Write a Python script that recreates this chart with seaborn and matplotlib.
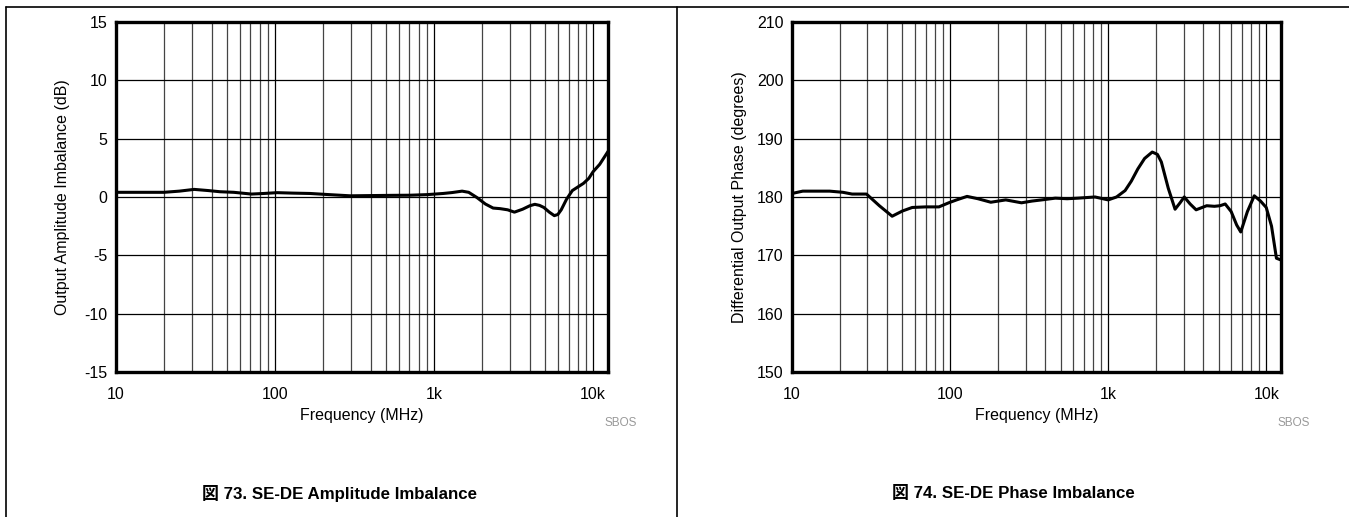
#!/usr/bin/env python3
import matplotlib
matplotlib.use('Agg')
import matplotlib.pyplot as plt
import matplotlib.ticker as mticker
from matplotlib.lines import Line2D
import seaborn as sns
import pandas as pd

# Amplitude imbalance (dB) vs frequency (MHz)
amp_freq = [10, 14, 20, 25, 31, 38, 45, 55, 71, 85, 103, 130, 166, 220, 297, 400,
            550, 706, 900, 1140, 1300, 1500, 1650, 1860, 2100, 2350, 2600, 2900,
            3200, 3600, 4000, 4300, 4600, 4900, 5300, 5700, 6000, 6300, 6800,
            7400, 8000, 8700, 9400, 10000, 11000, 12400]
amp_db = [0.4, 0.4, 0.4, 0.5, 0.65, 0.55, 0.45, 0.4, 0.25, 0.3, 0.37, 0.33, 0.3,
          0.2, 0.1, 0.12, 0.14, 0.15, 0.2, 0.3, 0.38, 0.5, 0.4, -0.05, -0.6, -0.95,
          -1.0, -1.1, -1.3, -1.05, -0.75, -0.63, -0.72, -0.9, -1.3, -1.6, -1.5,
          -1.1, -0.2, 0.55, 0.85, 1.17, 1.6, 2.17, 2.8, 3.9]

# Differential output phase (degrees) vs frequency (MHz)
ph_freq = [10, 11.7, 14, 17.3, 21, 24, 29.6, 35.7, 43, 50, 57.6, 70, 85, 98, 110,
           128, 150, 181, 225, 283, 330, 380, 463, 550, 645, 826, 1000, 1130,
           1280, 1400, 1540, 1700, 1900, 2050, 2170, 2400, 2650, 2850, 3030,
           3300, 3600, 4200, 4700, 5100, 5500, 6000, 6500, 6900, 7600, 8400,
           9200, 10000, 10800, 11600, 12400]
ph_deg = [180.6, 181.0, 181.0, 181.0, 180.8, 180.5, 180.5, 178.5, 176.7, 177.6,
          178.2, 178.3, 178.3, 179.0, 179.5, 180.1, 179.7, 179.1, 179.5, 179.0,
          179.3, 179.5, 179.8, 179.7, 179.8, 180.0, 179.5, 180.0, 181.1, 182.7,
          184.8, 186.6, 187.7, 187.3, 186.0, 181.5, 177.9, 179.0, 180.0, 178.8,
          177.8, 178.5, 178.4, 178.5, 178.8, 177.5, 175.2, 174.0, 177.5, 180.2,
          179.3, 178.2, 175.0, 169.5, 169.2]

x_ticks = [10, 100, 1000, 10000]
x_labels = ['10', '100', '1k', '10k']
amp_ticks = [-15, -10, -5, 0, 5, 10, 15]
ph_ticks = [150, 160, 170, 180, 190, 200, 210]

panels = [
    dict(freq=amp_freq, val=amp_db, yticks=amp_ticks,
         ylabel='Output Amplitude Imbalance (dB)',
         caption='図 73. SE-DE Amplitude Imbalance'),
    dict(freq=ph_freq, val=ph_deg, yticks=ph_ticks,
         ylabel='Differential Output Phase (degrees)',
         caption='図 74. SE-DE Phase Imbalance'),
]

sns.set_style('white')
plt.rcParams['font.family'] = ['Liberation Sans', 'Noto Sans CJK JP', 'DejaVu Sans']
plt.rcParams['text.color'] = 'black'
plt.rcParams['axes.labelcolor'] = 'black'

fig = plt.figure(figsize=(13.49, 5.17), dpi=100)
axes = [fig.add_axes([0.0860, 0.2805, 0.3647, 0.6770]),
        fig.add_axes([0.5871, 0.2805, 0.3625, 0.6770])]
caption_x = [0.252, 0.751]

for ax, p, cx in zip(axes, panels, caption_x):
    df = pd.DataFrame({'freq': p['freq'], 'val': p['val']})
    sns.lineplot(data=df, x='freq', y='val', ax=ax, color='black', linewidth=2.2)
    ax.set_xscale('log')
    ax.set_xlim(10, 12400)
    ax.set_ylim(p['yticks'][0], p['yticks'][-1])

    ax.xaxis.set_major_locator(mticker.FixedLocator(x_ticks))
    ax.xaxis.set_major_formatter(mticker.FixedFormatter(x_labels))
    ax.xaxis.set_minor_locator(mticker.LogLocator(base=10, subs=range(2, 10)))
    ax.xaxis.set_minor_formatter(mticker.NullFormatter())
    ax.yaxis.set_major_locator(mticker.FixedLocator(p['yticks']))
    ax.yaxis.set_major_formatter(mticker.FixedFormatter([str(t) for t in p['yticks']]))

    ax.grid(True, which='major', color='black', linewidth=0.9)
    ax.grid(True, which='minor', axis='x', color='#444444', linewidth=0.9)
    ax.tick_params(which='both', length=0, labelsize=11.5, colors='black')
    ax.tick_params(axis='x', pad=11)
    ax.tick_params(axis='y', pad=6)
    for s in ax.spines.values():
        s.set_visible(True)
        s.set_color('black')
        s.set_linewidth(2.4)

    ax.set_xlabel('Frequency (MHz)', fontsize=11.5)
    ax.set_ylabel(p['ylabel'], fontsize=11.5)
    ax.xaxis.set_label_coords(0.5, -0.103)
    ax.yaxis.set_label_coords(-0.093, 0.5)

    ax.text(1.025, -0.145, 'SBOS', transform=ax.transAxes, fontsize=8.5,
            color='#999999', ha='center', va='center')
    fig.text(cx, 0.046, p['caption'], fontsize=12.2, fontweight='bold',
             ha='center', va='center', color='black')

# Document frame
fig.add_artist(Line2D([0.0044, 1.0], [0.9865, 0.9865], color='black', linewidth=1.2))
fig.add_artist(Line2D([0.0044, 0.0044], [0.0, 0.9865], color='black', linewidth=1.2))
fig.add_artist(Line2D([0.5019, 0.5019], [0.0, 0.9865], color='black', linewidth=1.2))

plt.savefig('out.png', dpi=100)
